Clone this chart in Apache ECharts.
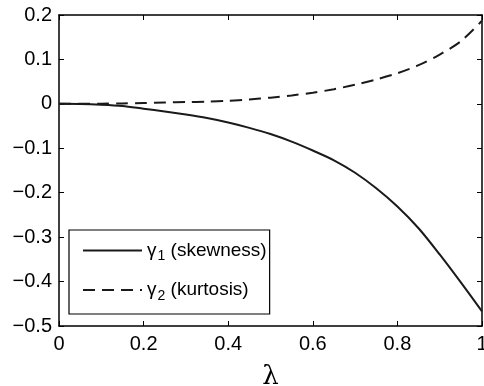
<!DOCTYPE html>
<html>
<head>
<meta charset="utf-8">
<script src="https://cdn.jsdelivr.net/npm/echarts@6/dist/echarts.min.js"></script>
<style>
  html, body { margin: 0; padding: 0; background: #fff; }
  #chart { width: 484px; height: 386px; }
</style>
</head>
<body>
<div id="chart"></div>
<script>
// values
const lambda = [0, 0.05, 0.1, 0.15, 0.2, 0.25, 0.3, 0.35, 0.4, 0.45, 0.5,
  0.55, 0.6, 0.65, 0.7, 0.75, 0.8, 0.85, 0.9, 0.95, 1.0];
const skewness = [0, -0.0003, -0.002, -0.005, -0.011, -0.017, -0.024, -0.032, -0.042, -0.054, -0.068,
  -0.085, -0.105, -0.127, -0.155, -0.19, -0.231, -0.28, -0.339, -0.402, -0.467];
const kurtosis = [0, 0.0001, 0.0005, 0.001, 0.002, 0.003, 0.004, 0.005, 0.007, 0.01, 0.014,
  0.019, 0.025, 0.033, 0.043, 0.055, 0.069, 0.087, 0.111, 0.141, 0.187];
const seriesNames = ["skew", "kurt"];
const legendSub = { skew: "1", kurt: "2" };
const legendText = { skew: " (skewness)", kurt: " (kurtosis)" };

const FONT = "'Liberation Sans', Arial, Helvetica, sans-serif";
const pairs = (ys) => lambda.map((x, i) => [x, ys[i]]);
const fmt = (v) => String(Math.round(v * 10) / 10).replace("-", "\u2212");

const chart = echarts.init(document.getElementById("chart"));

const axisLine = () => ({ show: true, onZero: false, lineStyle: { color: "#000", width: 1.5 } });
const tick = () => ({ show: true, inside: true, length: 5, lineStyle: { color: "#000", width: 1 } });

chart.setOption({
  animation: false,
  grid: { left: 59, right: 2, top: 15, bottom: 60, outerBoundsMode: "none" },
  legend: {
    orient: "vertical",
    left: 69,
    top: 230,
    data: seriesNames,
    backgroundColor: "#fff",
    borderColor: "#000",
    borderWidth: 1.2,
    padding: [11, 3, 11, 13],
    itemWidth: 59,
    itemHeight: 14,
    itemGap: 17,
    itemTextGap: 9,
    itemStyle: { opacity: 0 },
    textStyle: {
      fontFamily: FONT,
      color: "#000",
      rich: {
        a: { fontFamily: FONT, fontSize: 19, color: "#000" },
        s: { fontFamily: FONT, fontSize: 14, color: "#000", padding: [12, 0, 0, 1] },
      },
    },
    formatter: (name) => `{a|\u03b3}{s|${legendSub[name]}}{a|${legendText[name]}}`,
  },
  xAxis: [
    {
      type: "value",
      min: 0,
      max: 1,
      interval: 0.2,
      name: "\u03bb",
      nameLocation: "middle",
      nameGap: 38,
      nameTextStyle: { fontFamily: "'DejaVu Serif', serif", fontSize: 26, color: "#000" },
      axisLine: axisLine(),
      axisTick: tick(),
      splitLine: { show: false },
      axisLabel: { color: "#000", fontFamily: FONT, fontSize: 20, margin: 8, formatter: fmt },
    },
    {
      type: "value",
      position: "top",
      min: 0,
      max: 1,
      interval: 0.2,
      axisLine: axisLine(),
      axisTick: tick(),
      splitLine: { show: false },
      axisLabel: { show: false },
    },
  ],
  yAxis: [
    {
      type: "value",
      min: -0.5,
      max: 0.2,
      interval: 0.1,
      axisLine: axisLine(),
      axisTick: tick(),
      splitLine: { show: false },
      axisLabel: { color: "#000", fontFamily: FONT, fontSize: 20, margin: 7, formatter: fmt },
    },
    {
      type: "value",
      position: "right",
      min: -0.5,
      max: 0.2,
      interval: 0.1,
      axisLine: axisLine(),
      axisTick: tick(),
      splitLine: { show: false },
      axisLabel: { show: false },
    },
  ],
  series: [
    {
      name: "skew",
      type: "line",
      data: pairs(skewness),
      smooth: 0.3,
      symbol: "none",
      lineStyle: { color: "#1a1a1a", width: 2 },
    },
    {
      name: "kurt",
      type: "line",
      data: pairs(kurtosis),
      smooth: 0.3,
      symbol: "none",
      lineStyle: { color: "#1a1a1a", width: 2, type: [12, 7] },
    },
  ],
});
</script>
</body>
</html>
